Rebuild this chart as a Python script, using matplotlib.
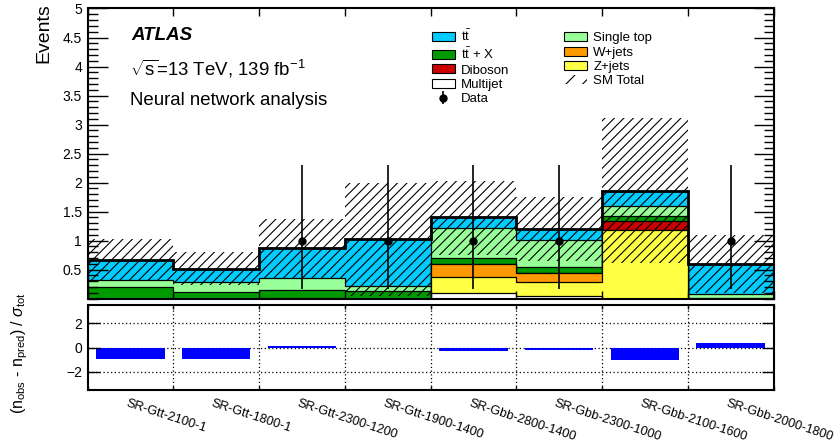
import matplotlib
matplotlib.use("Agg")
import matplotlib.pyplot as plt
import matplotlib.transforms as mtransforms
from matplotlib.patches import Patch, PathPatch
from matplotlib.path import Path
from matplotlib.collections import LineCollection
import numpy as np

plt.rcParams['font.family'] = ['Liberation Sans', 'DejaVu Sans']
plt.rcParams['mathtext.fontset'] = 'custom'
plt.rcParams['mathtext.rm'] = 'Liberation Sans'
plt.rcParams['mathtext.it'] = 'Liberation Sans:italic'
plt.rcParams['mathtext.bf'] = 'Liberation Sans:bold'
plt.rcParams['hatch.linewidth'] = 0.8

regions = ['SR-Gtt-2100-1', 'SR-Gtt-1800-1', 'SR-Gtt-2300-1200', 'SR-Gtt-1900-1400',
           'SR-Gbb-2800-1400', 'SR-Gbb-2300-1000', 'SR-Gbb-2100-1600', 'SR-Gbb-2000-1800']

# background yields per region (stack order: bottom to top)
multijet = [0.00, 0.00, 0.00, 0.00, 0.09, 0.05, 0.00, 0.00]
zjets = [0.00, 0.00, 0.00, 0.00, 0.29, 0.23, 1.18, 0.00]
wjets = [0.00, 0.00, 0.00, 0.00, 0.22, 0.17, 0.00, 0.00]
diboson = [0.00, 0.00, 0.015, 0.00, 0.00, 0.00, 0.16, 0.00]
ttx = [0.20, 0.12, 0.13, 0.13, 0.10, 0.10, 0.09, 0.02]
singletop = [0.13, 0.17, 0.205, 0.09, 0.52, 0.46, 0.17, 0.06]
ttbar = [0.33, 0.23, 0.52, 0.80, 0.18, 0.19, 0.26, 0.52]

# total uncertainty band edges
band_up = [1.02, 0.80, 1.37, 2.00, 2.03, 1.75, 3.11, 1.10]
band_down = [0.30, 0.24, 0.36, 0.04, 0.76, 0.65, 0.61, 0.10]

# observed data with asymmetric errors
n_obs = [0, 0, 1, 1, 1, 1, 0, 1]
obs_err_lo = [0.83, 0.83, 0.83, 0.83, 0.83, 0.83, 0.83, 0.83]
obs_err_hi = [1.30, 1.30, 1.30, 1.30, 1.30, 1.30, 1.30, 1.30]

# significance (n_obs - n_pred) / sigma_tot
significance = [-0.93, -0.93, 0.10, -0.03, -0.30, -0.22, -1.05, 0.35]

samples = [
    ('multijet', multijet, '#ffffff', 'Multijet'),
    ('zjets', zjets, '#ffff44', 'Z+jets'),
    ('wjets', wjets, '#ff9900', 'W+jets'),
    ('diboson', diboson, '#cc0000', 'Diboson'),
    ('ttx', ttx, '#009900', r'$\mathrm{t\bar{t}}$ + X'),
    ('singletop', singletop, '#99ff99', 'Single top'),
    ('ttbar', ttbar, '#00ccff', r'$\mathrm{t\bar{t}}$'),
]

nbins = len(regions)
edges = np.arange(nbins + 1)
centers = edges[:-1] + 0.5

W, H = 834, 444
fig = plt.figure(figsize=(W / 100, H / 100), dpi=100)
ax = fig.add_axes([87.5 / W, 1 - 298.7 / H, 686 / W, 290.2 / H])
rax = fig.add_axes([87.5 / W, 1 - 390 / H, 686 / W, 85 / H])

# stacked histogram: draw cumulative sums from the top down
cum = np.cumsum([np.array(s[1]) for s in samples], axis=0)
for i in range(len(samples) - 1, -1, -1):
    ax.stairs(cum[i], edges, fill=True, baseline=0, facecolor=samples[i][2],
              edgecolor='black', linewidth=0.9)
total = cum[-1]
ax.stairs(total, edges, baseline=None, color='black', linewidth=2.0)

ax.set_xlim(0, nbins)
ax.set_ylim(0, 5)

# uncertainty band: 45 degree lines clipped to the band boxes
verts, codes = [], []
for lo, x0, y0, y1 in zip(edges[:-1], edges[:-1], band_down, band_up):
    verts += [(x0, y0), (x0 + 1, y0), (x0 + 1, y1), (x0, y1), (x0, y0)]
    codes += [Path.MOVETO, Path.LINETO, Path.LINETO, Path.LINETO, Path.CLOSEPOLY]
band = PathPatch(Path(verts, codes), transform=ax.transData, facecolor='none',
                 edgecolor='none')
ax.add_patch(band)
bb = ax.get_window_extent()
hgt = bb.y1 - bb.y0
segs = [[(c, bb.y0), (c + hgt, bb.y1)] for c in np.arange(bb.x0 - hgt, bb.x1, 9.5)]
hatch = LineCollection(segs, colors='black', linewidths=0.8, transform=None, zorder=3)
hatch.set_clip_path(band)
ax.add_collection(hatch, autolim=False)

# data points
n_obs = np.array(n_obs, dtype=float)
has = n_obs > 0
data = ax.errorbar(centers[has], n_obs[has],
                   yerr=[np.array(obs_err_lo)[has], np.array(obs_err_hi)[has]],
                   fmt='o', color='black', markersize=5, elinewidth=1.2, capsize=0, zorder=10)

ax.set_xticks(edges)
ax.set_xticklabels([])
ax.set_yticks(np.arange(0.5, 5.01, 0.5))
ax.set_yticklabels(['0.5', '1', '1.5', '2', '2.5', '3', '3.5', '4', '4.5', '5'])
ax.set_yticks(np.arange(0, 5.01, 0.1), minor=True)
ax.tick_params(axis='y', which='major', direction='in', length=14.5, width=1.0,
               left=True, right=True, labelsize=10, pad=4)
ax.tick_params(axis='y', which='minor', direction='in', length=7.2, width=1.0,
               left=True, right=True)
ax.tick_params(axis='x', which='major', direction='in', length=6, width=1.0,
               top=True, bottom=True)
for sp in ax.spines.values():
    sp.set_linewidth(1.5)

# legend
def box(key):
    s = [x for x in samples if x[0] == key][0]
    return Patch(facecolor=s[2], edgecolor='black', linewidth=0.8, label=s[3])

handles = [box('ttbar'), box('ttx'), box('diboson'), box('multijet'), data,
           box('singletop'), box('wjets'), box('zjets'),
           Patch(facecolor='none', edgecolor='black', hatch='//', linewidth=0)]
labels = [r'$\mathrm{t\bar{t}}$', r'$\mathrm{t\bar{t}}$ + X', 'Diboson', 'Multijet', 'Data',
          'Single top', 'W+jets', 'Z+jets', 'SM Total']
ax.legend(handles, labels, ncol=2, loc='upper left', bbox_to_anchor=(431.5 / W, 1 - 29 / H),
          bbox_transform=fig.transFigure, frameon=False, fontsize=9.5, borderpad=0,
          borderaxespad=0, handlelength=1.75, handleheight=0.65, handletextpad=0.45,
          labelspacing=0.17, columnspacing=4.2)

# labels
fig.text(131.5 / W, 1 - 40 / H, 'ATLAS', fontsize=13.5, fontweight='bold', style='italic',
         va='baseline', ha='left')
fig.text(130 / W, 1 - 75 / H, r'$\sqrt{\mathrm{s}}$=13 TeV, 139 fb$^{-1}$', fontsize=13.4,
         va='baseline', ha='left')
fig.text(130 / W, 1 - 105 / H, 'Neural network analysis', fontsize=13.4,
         va='baseline', ha='left')
fig.text(43.5 / W, 1 - 3 / H, 'Events', fontsize=14, rotation=90, ha='center', va='top')

# significance panel
rax.bar(centers, significance, width=0.8, color='#0000ff', linewidth=0)
rax.set_xlim(0, nbins)
rax.set_ylim(-3.5, 3.5)
rax.set_yticks([-2, 0, 2])
rax.set_yticklabels(['\u22122', '0', '2'])
rax.set_xticks(edges)
rax.set_xticklabels([])
for y in [-2, 0, 2]:
    rax.axhline(y, color='black', linewidth=0.9, linestyle=(0, (1, 2)), zorder=0)
for x in edges[1:-1]:
    rax.axvline(x, color='black', linewidth=0.9, linestyle=(0, (1, 2)), zorder=0)
rax.tick_params(axis='y', direction='in', length=8.5, width=1.0, left=True, right=True,
                labelsize=10, pad=4)
rax.tick_params(axis='x', direction='in', length=3, width=1.0, top=True, bottom=True)
for sp in rax.spines.values():
    sp.set_linewidth(1.5)

fig.text(20 / W, 1 - 353 / H,
         r'(n$_{\mathrm{obs}}$ - n$_{\mathrm{pred}}$) / $\sigma_{\mathrm{tot}}$',
         fontsize=11.5, rotation=90, ha='center', va='center')

trans = mtransforms.blended_transform_factory(rax.transData, fig.transFigure)
for c, lab in zip(centers, regions):
    rax.text(c - 0.03, 1 - 397 / H, lab, transform=trans, rotation=-18, ha='left', va='top',
             rotation_mode='anchor', fontsize=9.2)

fig.savefig('out.png', dpi=100)
